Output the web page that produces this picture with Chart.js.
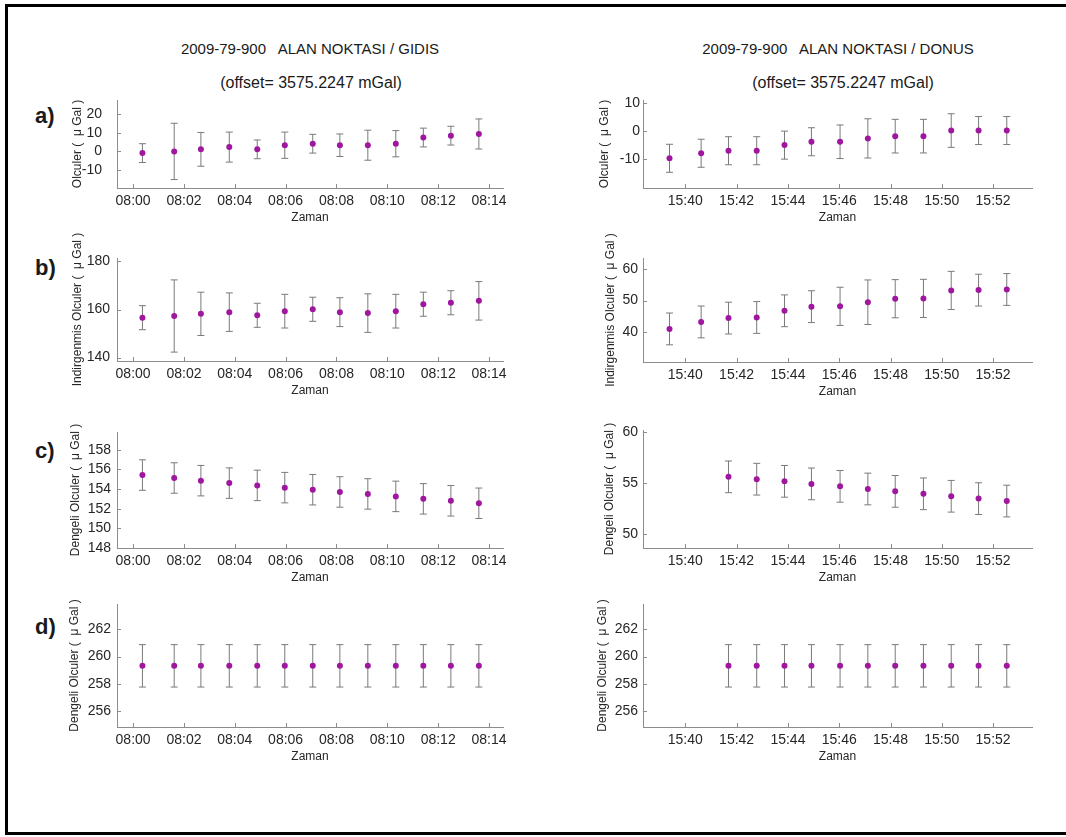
<!DOCTYPE html>
<html>
<head>
<meta charset="utf-8">
<script src="https://cdn.jsdelivr.net/npm/chart.js@4.4.0/dist/chart.umd.min.js"></script>
<style>
  html, body { margin: 0; padding: 0; background: #fff; overflow: hidden; }
  body { width: 1066px; height: 837px; position: relative; font-family: "Liberation Sans", Arial, sans-serif; color: #1a1a1a; }
  .frame { position: absolute; left: 5px; top: 4px; width: 1100px; height: 831px; border: 3px solid #000; border-right: none; box-sizing: border-box; }
  .txt { position: absolute; white-space: pre; transform: translate(-50%, -50%); line-height: 1; }
  .baslik { font-size: 15px; }
  .ofset { font-size: 16px; }
  .harf { position: absolute; left: 35px; font-size: 22px; font-weight: bold; line-height: 1; transform: translateY(-50%); }
  canvas { position: absolute; }
</style>
</head>
<body>
<div class="frame"></div>

<div class="txt baslik" style="left:310px; top:48px;">2009-79-900   ALAN NOKTASI / GIDIS</div>
<div class="txt ofset" style="left:311px; top:83px;">(offset= 3575.2247 mGal)</div>
<div class="txt baslik" style="left:838px; top:48px;">2009-79-900   ALAN NOKTASI / DONUS</div>
<div class="txt ofset" style="left:843px; top:83px;">(offset= 3575.2247 mGal)</div>

<div class="harf" style="top:116px;">a)</div>
<div class="harf" style="top:268px;">b)</div>
<div class="harf" style="top:451px;">c)</div>
<div class="harf" style="top:627px;">d)</div>

<script>
// Olcum zamanlari (sa:dk:sn)
const gidisZaman = ['08:00:22', '08:01:37', '08:02:40', '08:03:47', '08:04:53', '08:05:58', '08:07:04',
                    '08:08:08', '08:09:14', '08:10:20', '08:11:25', '08:12:30', '08:13:36'];
const donusZaman = ['15:39:23', '15:40:37', '15:41:41', '15:42:47', '15:43:52', '15:44:55', '15:46:02',
                    '15:47:07', '15:48:11', '15:49:17', '15:50:22', '15:51:26', '15:52:32'];
// dengeli donus olculeri 15:41 sonrasindan basliyor
const donusDengeliZaman = donusZaman.slice(2);

// x ekseni etiketleri ve sinirlari
const gidisEtiket = ['08:00', '08:02', '08:04', '08:06', '08:08', '08:10', '08:12', '08:14'];
const donusEtiket = ['15:40', '15:42', '15:44', '15:46', '15:48', '15:50', '15:52'];
const gidisSinir = ['07:59:22', '08:14:33'];
const donusSinir = ['15:38:21', '15:53:31'];

// a) olculer (micro Gal)
const gidisOlculer = [-0.9, 0.0, 1.1, 2.3, 1.1, 3.3, 4.1, 3.3, 3.3, 4.1, 7.4, 8.4, 9.3];
const donusOlculer = [-9.8, -8.0, -7.1, -7.1, -5.1, -3.9, -3.9, -2.7, -1.9, -1.9, 0.1, 0.1, 0.1];
const gidisHata = [5, 15, 9, 8, 5, 7, 5, 6, 8, 7, 5, 5, 8];
const donusHata = [5, 5, 5, 5, 5, 5, 6, 7, 6, 6, 6, 5, 5];

// b) indirgenmis olculer
const gidisIndirgenmis = [156.6, 157.3, 158.2, 158.9, 157.6, 159.3, 160.1, 158.9, 158.5, 159.3, 162.2, 162.8, 163.6];
const donusIndirgenmis = [41.1, 43.3, 44.5, 44.7, 46.8, 48.1, 48.2, 49.5, 50.6, 50.7, 53.2, 53.3, 53.5];

// c) dengeli olculer
const gidisDengeli = [155.42, 155.12, 154.85, 154.6, 154.37, 154.14, 153.93, 153.7, 153.5, 153.25, 153.0, 152.8, 152.55];
const donusDengeli = [55.62, 55.39, 55.18, 54.93, 54.69, 54.43, 54.2, 53.96, 53.72, 53.49, 53.25];
const gidisDengeliHata = [1.55, 1.55, 1.55, 1.55, 1.55, 1.55, 1.55, 1.55, 1.55, 1.55, 1.55, 1.55, 1.55];
const donusDengeliHata = [1.55, 1.55, 1.55, 1.55, 1.55, 1.55, 1.55, 1.55, 1.55, 1.55, 1.55];

// d) dengeli olculer (ikinci cozum)
const gidisDengeli2 = [259.32, 259.32, 259.32, 259.32, 259.32, 259.32, 259.32, 259.32, 259.32, 259.32, 259.32, 259.32, 259.32];
const donusDengeli2 = [259.32, 259.32, 259.32, 259.32, 259.32, 259.32, 259.32, 259.32, 259.32, 259.32, 259.32];

// y ekseni tikleri ve sinirlari
const tikA_gidis = [-10, 0, 10, 20];
const tikA_donus = [-10, 0, 10];
const tikB_gidis = [140, 160, 180];
const tikB_donus = [40, 50, 60];
const tikC_gidis = [148, 150, 152, 154, 156, 158];
const tikC_donus = [50, 55, 60];
const tikD = [256, 258, 260, 262];

// "sa:dk[:sn]" -> gece yarisindan beri dakika
function dakika(s) {
  const p = s.split(':').map(Number);
  return p[0] * 60 + p[1] + (p[2] || 0) / 60;
}
function saatYaz(v) {
  const m = Math.round(v);
  return String(Math.floor(m / 60)).padStart(2, '0') + ':' + String(m % 60).padStart(2, '0');
}

const NOKTA = '#a0179f';
const EKSEN = '#8c8c8c';
const YAZI = '#262626';
const FONT = '"Liberation Sans", Arial, sans-serif';

// hata cubuklari
const hataCubugu = {
  id: 'hataCubugu',
  beforeDatasetsDraw(chart) {
    const {ctx, scales: {x, y}} = chart;
    ctx.save();
    ctx.strokeStyle = '#7a7a7a';
    ctx.lineWidth = 1;
    chart.data.datasets.forEach(ds => {
      ds.data.forEach((p, i) => {
        const e = ds.hata[i];
        const px = x.getPixelForValue(p.x);
        const ust = y.getPixelForValue(p.y + e);
        const alt = y.getPixelForValue(p.y - e);
        ctx.beginPath();
        ctx.moveTo(px, ust); ctx.lineTo(px, alt);
        ctx.moveTo(px - 3.5, ust); ctx.lineTo(px + 3.5, ust);
        ctx.moveTo(px - 3.5, alt); ctx.lineTo(px + 3.5, alt);
        ctx.stroke();
      });
    });
    ctx.restore();
  }
};

// eksenden iceri bakan kisa tikler
const icTik = {
  id: 'icTik',
  afterDraw(chart) {
    const {ctx, chartArea: a, scales: {x, y}} = chart;
    ctx.save();
    ctx.strokeStyle = EKSEN;
    ctx.lineWidth = 1;
    ctx.beginPath();
    x.ticks.forEach(t => {
      const px = Math.round(x.getPixelForValue(t.value)) + 0.5;
      ctx.moveTo(px, a.bottom); ctx.lineTo(px, a.bottom - 4);
    });
    y.ticks.forEach(t => {
      const py = Math.round(y.getPixelForValue(t.value)) + 0.5;
      ctx.moveTo(a.left, py); ctx.lineTo(a.left + 4, py);
    });
    ctx.stroke();
    ctx.restore();
  }
};

const SOL = {left: 117, right: 503};
const SAG = {left: 643, right: 1032};
const UST_BOSLUK = 26, SAG_BOSLUK = 12, X_YUKSEKLIK = 37;

function panel(o) {
  const canvasLeft = o.titleX - 7;
  const yWidth = o.col.left - canvasLeft;
  const w = yWidth + (o.col.right - o.col.left) + SAG_BOSLUK;
  const h = UST_BOSLUK + (o.bottom - o.top) + X_YUKSEKLIK;
  const cv = document.createElement('canvas');
  cv.width = w; cv.height = h;
  cv.style.left = canvasLeft + 'px';
  cv.style.top = (o.top - UST_BOSLUK) + 'px';
  document.body.appendChild(cv);

  const noktalar = o.zaman.map((t, i) => ({x: dakika(t), y: o.deger[i]}));

  new Chart(cv.getContext('2d'), {
    type: 'scatter',
    data: {
      datasets: [{
        data: noktalar,
        hata: o.hata,
        pointRadius: 3,
        pointHoverRadius: 3,
        pointBackgroundColor: NOKTA,
        pointBorderWidth: 0
      }]
    },
    options: {
      responsive: false,
      animation: false,
      devicePixelRatio: 1,
      layout: {padding: {top: UST_BOSLUK, right: SAG_BOSLUK, left: 0, bottom: 0}},
      plugins: {legend: {display: false}, tooltip: {enabled: false}},
      scales: {
        x: {
          type: 'linear',
          min: dakika(o.sinir[0]),
          max: dakika(o.sinir[1]),
          bounds: 'data',
          afterBuildTicks: s => { s.ticks = o.xEtiket.map(t => ({value: dakika(t)})); },
          afterFit: s => { s.height = X_YUKSEKLIK; },
          grid: {display: false, drawTicks: false},
          border: {display: true, color: EKSEN, width: 1},
          ticks: {
            autoSkip: false, maxRotation: 0, padding: 5, color: YAZI,
            font: {family: FONT, size: 14},
            callback: v => saatYaz(v)
          },
          title: {display: true, text: 'Zaman', color: YAZI, padding: 0,
                  font: {family: FONT, size: 12, lineHeight: 1.2}}
        },
        y: {
          min: o.yMin,
          max: o.yMax,
          bounds: 'data',
          afterBuildTicks: s => { s.ticks = o.yTik.map(v => ({value: v})); },
          afterFit: s => { s.width = yWidth; },
          grid: {display: false, drawTicks: false},
          border: {display: true, color: EKSEN, width: 1},
          ticks: {
            padding: o.tikBosluk, color: YAZI,
            font: {family: FONT, size: 14},
            callback: v => String(v)
          },
          title: {display: true, text: o.yBaslik, color: YAZI, padding: 0,
                  font: {family: FONT, size: 12, lineHeight: 1.2}}
        }
      }
    },
    plugins: [hataCubugu, icTik]
  });
}

const mu = '\u03BC';

// GIDIS
panel({col: SOL, top: 100, bottom: 188, titleX: 77, tikBosluk: 15,
       zaman: gidisZaman, deger: gidisOlculer, hata: gidisHata,
       xEtiket: gidisEtiket, sinir: gidisSinir, yTik: tikA_gidis, yMin: -19.5, yMax: 27.4,
       yBaslik: 'Olculer (  ' + mu + ' Gal )'});
panel({col: SOL, top: 258, bottom: 361, titleX: 77, tikBosluk: 7,
       zaman: gidisZaman, deger: gidisIndirgenmis, hata: gidisHata,
       xEtiket: gidisEtiket, sinir: gidisSinir, yTik: tikB_gidis, yMin: 138.6, yMax: 181.4,
       yBaslik: 'Indirgenmis Olculer (  ' + mu + ' Gal )'});
panel({col: SOL, top: 432, bottom: 548, titleX: 75, tikBosluk: 6,
       zaman: gidisZaman, deger: gidisDengeli, hata: gidisDengeliHata,
       xEtiket: gidisEtiket, sinir: gidisSinir, yTik: tikC_gidis, yMin: 148, yMax: 159.8,
       yBaslik: 'Dengeli Olculer (  ' + mu + ' Gal )'});
panel({col: SOL, top: 604, bottom: 727, titleX: 74, tikBosluk: 6,
       zaman: gidisZaman, deger: gidisDengeli2, hata: gidisDengeliHata,
       xEtiket: gidisEtiket, sinir: gidisSinir, yTik: tikD, yMin: 254.85, yMax: 263.84,
       yBaslik: 'Dengeli Olculer (  ' + mu + ' Gal )'});

// DONUS
panel({col: SAG, top: 100, bottom: 188, titleX: 604, tikBosluk: 3,
       zaman: donusZaman, deger: donusOlculer, hata: donusHata,
       xEtiket: donusEtiket, sinir: donusSinir, yTik: tikA_donus, yMin: -20.4, yMax: 11,
       yBaslik: 'Olculer (  ' + mu + ' Gal )'});
panel({col: SAG, top: 258, bottom: 362, titleX: 610, tikBosluk: 5,
       zaman: donusZaman, deger: donusIndirgenmis, hata: donusHata,
       xEtiket: donusEtiket, sinir: donusSinir, yTik: tikB_donus, yMin: 30.7, yMax: 63.4,
       yBaslik: 'Indirgenmis Olculer (  ' + mu + ' Gal )'});
panel({col: SAG, top: 430, bottom: 548, titleX: 609, tikBosluk: 5,
       zaman: donusDengeliZaman, deger: donusDengeli, hata: donusDengeliHata,
       xEtiket: donusEtiket, sinir: donusSinir, yTik: tikC_donus, yMin: 48.66, yMax: 60.2,
       yBaslik: 'Dengeli Olculer (  ' + mu + ' Gal )'});
panel({col: SAG, top: 604, bottom: 727, titleX: 602, tikBosluk: 5,
       zaman: donusDengeliZaman, deger: donusDengeli2, hata: donusDengeliHata,
       xEtiket: donusEtiket, sinir: donusSinir, yTik: tikD, yMin: 254.85, yMax: 263.84,
       yBaslik: 'Dengeli Olculer (  ' + mu + ' Gal )'});
</script>
</body>
</html>
